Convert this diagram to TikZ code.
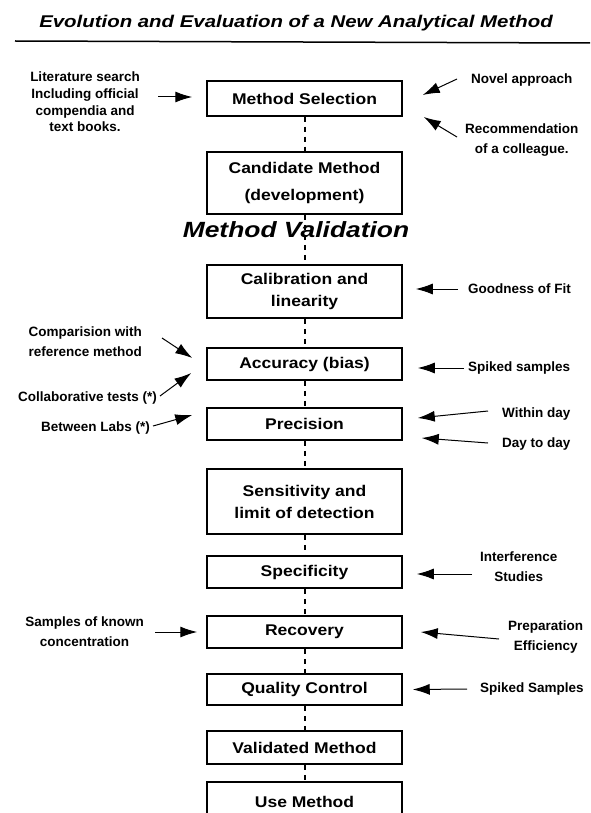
\documentclass[tikz,border=0pt]{standalone}
\usepackage{fontspec}
\setmainfont{Liberation Sans}
\newfontfamily\boxfont[FakeStretch=1.13]{Liberation Sans}
\newfontfamily\headfont[FakeStretch=1.2]{Liberation Sans}
\usetikzlibrary{arrows.meta,calc}

\begin{document}
\begin{tikzpicture}[x=1pt, y=-1pt,
    stage/.style={draw, line width=1.5pt, minimum width=195pt, inner sep=0pt, align=center,
        font=\boxfont\bfseries\fontsize{15.5}{22}\selectfont},
    note/.style={inner sep=0pt, align=center, font=\bfseries\fontsize{13.5}{20}\selectfont},
    link/.style={line width=2pt, dash pattern=on 5pt off 5pt},
    feed/.style={line width=1pt, -{Latex[length=17pt,width=11pt]}}]
    \useasboundingbox (0,0) rectangle (590,813);
    \clip (0,0) rectangle (590,813);

    % Title
    \node (title) at (296,23) {\headfont\bfseries\itshape\fontsize{17}{20}\selectfont
        Evolution and Evaluation of a New Analytical Method};
    \draw[line width=1.5pt] (15,41) -- (590,43);

    % Main column
    \node[stage, minimum height=35pt] (select) at (304.5,98.5) {Method Selection};
    \node[stage, minimum height=62pt] (cand) at (304.5,183) {Candidate Method\\[5pt](development)};
    \node[stage, minimum height=53pt] (calib) at (304.5,291.5) {Calibration and\\linearity};
    \node[stage, minimum height=32pt] (accur) at (304.5,364) {Accuracy (bias)};
    \node[stage, minimum height=32pt] (precis) at (304.5,424) {Precision};
    \node[stage, minimum height=65pt] (sens) at (304.5,501.5) {Sensitivity and\\limit of detection};
    \node[stage, minimum height=32pt] (specif) at (304.5,572) {Specificity};
    \node[stage, minimum height=32pt] (recov) at (304.5,632) {Recovery};
    \node[stage, minimum height=31pt] (qc) at (304.5,689.5) {Quality Control};
    \node[stage, minimum height=33pt] (valid) at (304.5,747.5) {Validated Method};
    \node[stage, minimum height=40pt, anchor=north] (use) at (304.5,781) {Use Method};

    \foreach \a/\b in {select/cand, cand/calib, calib/accur, accur/precis, precis/sens,
        sens/specif, specif/recov, recov/qc, qc/valid, valid/use}
        \draw[link] (\a.south) -- (\b.north);

    \node (mval) at (296,230) {\headfont\bfseries\itshape\fontsize{22}{24}\selectfont Method Validation};

    % Left inputs
    \node[note, anchor=east, font=\bfseries\fontsize{13.5}{16.7}\selectfont] (lit) at (140,102)
        {Literature search\\Including official\\compendia and\\text books.};
    \node[note, anchor=east] (comp) at (142,342) {Comparision with\\reference method};
    \node[note, anchor=east] (collab) at (157,398) {Collaborative tests (*)};
    \node[note, anchor=east] (labs) at (150,428) {Between Labs (*)};
    \node[note, anchor=east] (samples) at (144,632) {Samples of known\\concentration};

    % Right inputs
    \node[note, anchor=west] (novel) at (471,80) {Novel approach};
    \node[note, anchor=west] (recom) at (465,140) {Recommendation\\of a colleague.};
    \node[note, anchor=west] (gof) at (468,289) {Goodness of Fit};
    \node[note, anchor=west] (spk1) at (468,368) {Spiked samples};
    \node[note, anchor=west] (within) at (502,414) {Within day};
    \node[note, anchor=west] (daytoday) at (502,444) {Day to day};
    \node[note, anchor=west] (interf) at (480,567) {Interference\\Studies};
    \node[note, anchor=west] (prep) at (508,637) {Preparation\\Efficiency};
    \node[note, anchor=west] (spk2) at (480,689) {Spiked Samples};

    % Arrows
    \draw[feed] ($(lit.east)+(18,-5)$) -- ($(select.west)+(-14,-1.5)$);
    \draw[feed] ($(novel.west)+(-14,-1)$) -- ($(select.east)+(20,-3.5)$);
    \draw[feed] ($(recom.west)+(-8,-3)$) -- ($(select.east)+(21,18.5)$);
    \draw[feed] ($(gof.west)+(-10,0)$) -- ($(calib.east)+(13,-2.5)$);
    \draw[feed] ($(comp.east)+(20,-4)$) -- ($(accur.west)+(-14,-6)$);
    \draw[feed] ($(spk1.west)+(-4,0)$) -- ($(accur.east)+(15,4)$);
    \draw[feed] ($(collab.east)+(3,-2)$) -- ($(accur.west)+(-15,9)$);
    \draw[feed] ($(within.west)+(-14,-3)$) -- ($(precis.east)+(15,-6)$);
    \draw[feed] ($(daytoday.west)+(-14,-1)$) -- ($(precis.east)+(19,14)$);
    \draw[feed] ($(labs.east)+(3,-2)$) -- ($(precis.west)+(-14,-9)$);
    \draw[feed] ($(interf.west)+(-8,7)$) -- ($(specif.east)+(14,2)$);
    \draw[feed] ($(samples.east)+(11,0)$) -- ($(recov.west)+(-9,0)$);
    \draw[feed] ($(prep.west)+(-9,2)$) -- ($(recov.east)+(18,0)$);
    \draw[feed] ($(spk2.west)+(-13,0)$) -- ($(qc.east)+(10,0)$);
\end{tikzpicture}
\end{document}
